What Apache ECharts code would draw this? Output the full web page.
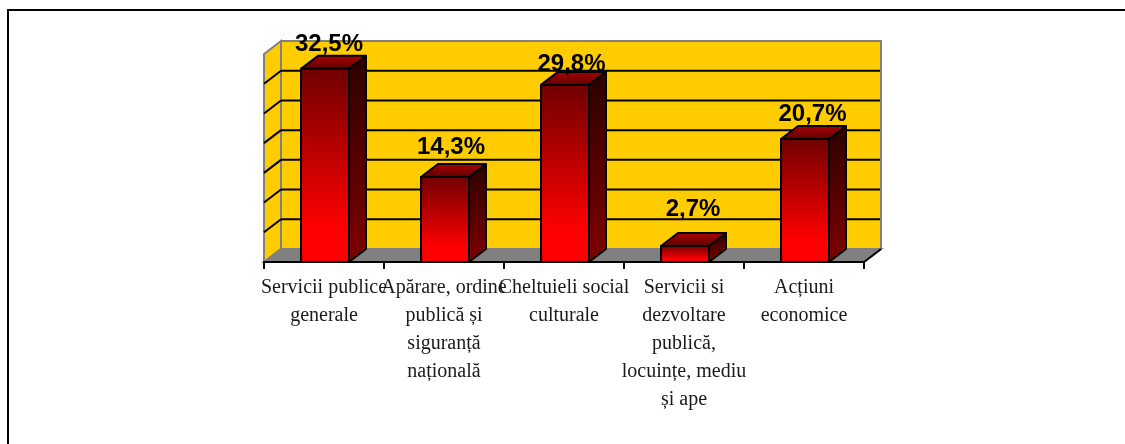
<!DOCTYPE html>
<html>
<head>
<meta charset="utf-8">
<style>html,body{margin:0;padding:0;background:#fff}#c{width:1125px;height:444px}</style>
<script src="https://cdn.jsdelivr.net/npm/echarts@6/dist/echarts.min.js"></script>
</head>
<body>
<div id="c"></div>
<script>
const categories = [
  "Servicii publice\ngenerale",
  "Apărare, ordine\npublică și\nsiguranță\nnațională",
  "Cheltuieli social\nculturale",
  "Servicii si\ndezvoltare\npublică,\nlocuințe, mediu\nși ape",
  "Acțiuni\neconomice"
];
const shares = [32.5, 14.3, 29.8, 2.7, 20.7];
const shareLabels = ["32,5%", "14,3%", "29,8%", "2,7%", "20,7%"];
const gridValues = [0, 5, 10, 15, 20, 25, 30, 35];

// drawing constants (not data)
const DX = 17, DY = -13, BAR_W = 48;
const LABEL_DX = [5, 7, 7.5, 9, 8.5];
const LABEL_GAP = [4, 10, 1, 17, 5];

const chart = echarts.init(document.getElementById('c'), null, {renderer: 'canvas'});
const grad = (a, b, mid) => ({type: 'linear', x: 0, y: 0, x2: 0, y2: 1, global: false,
  colorStops: mid ? [{offset: 0, color: a}, {offset: mid, color: b}, {offset: 1, color: b}]
                  : [{offset: 0, color: a}, {offset: 1, color: b}]});

function renderWalls(params, api) {
  const cs = params.coordSys;
  const l = cs.x, r = cs.x + cs.width, y0 = cs.y + cs.height, y1 = cs.y;
  const grey = {stroke: '#808080', lineWidth: 2};
  return {type: 'group', children: [
    {type: 'polygon', shape: {points: [[l + DX, y1 + DY], [r + DX, y1 + DY], [r + DX, y0 + DY], [l + DX, y0 + DY]]},
      style: Object.assign({fill: '#FFCC00'}, grey)},
    {type: 'polygon', shape: {points: [[l, y1], [l + DX, y1 + DY], [l + DX, y0 + DY], [l, y0]]},
      style: Object.assign({fill: '#FFCC00'}, grey)},
    {type: 'polygon', shape: {points: [[l, y0], [l + DX, y0 + DY], [r + DX, y0 + DY], [r, y0]]},
      style: Object.assign({fill: '#808080'}, grey)},
    {type: 'line', shape: {x1: r, y1: y0, x2: r + DX, y2: y0 + DY}, style: {stroke: '#000', lineWidth: 2}}
  ]};
}

function renderGrid(params, api) {
  const cs = params.coordSys;
  const v = api.value(0);
  const y = api.coord([0, v])[1];
  const l = cs.x, r = cs.x + cs.width;
  return {type: 'group', children: [
    {type: 'line', shape: {x1: l + DX, y1: y + DY, x2: r + DX - 1, y2: y + DY}, style: {stroke: '#000', lineWidth: 2}},
    {type: 'line', shape: {x1: l, y1: y, x2: l + DX, y2: y + DY}, style: {stroke: '#000', lineWidth: 2}}
  ]};
}

function renderBar(params, api) {
  const i = params.dataIndex;
  const top = api.coord([i, api.value(1)]);
  const base = api.coord([i, 0]);
  const x0 = top[0] - BAR_W / 2 + 1, x1 = x0 + BAR_W, yT = top[1], yB = base[1];
  const edge = {stroke: '#000', lineWidth: 2, lineJoin: 'round'};
  return {type: 'group', children: [
    {type: 'polygon', shape: {points: [[x1, yT], [x1 + DX, yT + DY], [x1 + DX, yB + DY], [x1, yB]]},
      style: Object.assign({fill: grad('#2c0000', '#800000')}, edge)},
    {type: 'polygon', shape: {points: [[x0, yT], [x0 + DX, yT + DY], [x1 + DX, yT + DY], [x1, yT]]},
      style: Object.assign({fill: grad('#b00000', '#5a0000')}, edge)},
    {type: 'rect', shape: {x: x0, y: yT, width: BAR_W, height: yB - yT},
      style: Object.assign({fill: grad('#700000', '#ff0000', 0.82)}, edge)},
    {type: 'text', x: top[0] + LABEL_DX[i], y: yT + DY - LABEL_GAP[i] + 5,
      style: {text: shareLabels[i], fill: '#000', align: 'center', verticalAlign: 'bottom',
        font: 'bold 24px "Liberation Sans", Arial, sans-serif'}}
  ]};
}

chart.setOption({
  animation: false,
  backgroundColor: '#fff',
  grid: {left: 264, right: 261, top: 54, bottom: 182},
  xAxis: {
    type: 'category', data: categories, boundaryGap: true,
    axisLine: {show: true, lineStyle: {color: '#000', width: 2}},
    axisTick: {show: true, alignWithLabel: false, length: 7, lineStyle: {color: '#000', width: 2}},
    axisLabel: {interval: 0, hideOverlap: false, color: '#1a1a1a', margin: 12, lineHeight: 28,
      fontFamily: '"Liberation Serif", "Times New Roman", serif', fontSize: 20},
    splitLine: {show: false}, z: 5
  },
  yAxis: {type: 'value', min: 0, max: 35, interval: 5, show: false, splitLine: {show: false}},
  series: [
    {type: 'custom', name: 'walls', coordinateSystem: 'cartesian2d', renderItem: renderWalls, data: [[0, 0]], clip: false, z: 1, silent: true},
    {type: 'custom', name: 'grid', coordinateSystem: 'cartesian2d', renderItem: renderGrid,
      data: gridValues.slice(1, -1).map(v => [v]), encode: {y: 0}, clip: false, z: 2, silent: true},
    {type: 'custom', name: 'share', coordinateSystem: 'cartesian2d', renderItem: renderBar,
      data: shares.map((v, i) => [i, v]), encode: {x: 0, y: 1}, clip: false, z: 3}
  ],
  graphic: [
    {type: 'polyline', silent: true, shape: {points: [[8, 444], [8, 10], [1125, 10]]},
      style: {fill: 'none', stroke: '#000', lineWidth: 2}}
  ]
});
</script>
</body>
</html>
